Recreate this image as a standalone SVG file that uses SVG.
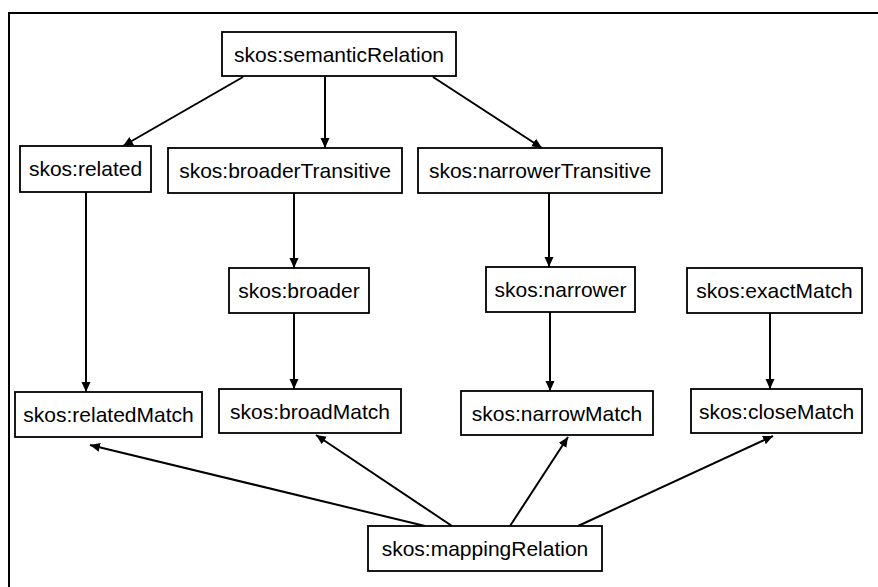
<svg xmlns="http://www.w3.org/2000/svg" width="878" height="587" viewBox="0 0 878 587">
<style>
.box{fill:#fff;stroke:#000;stroke-width:1.8}
.lbl{font-family:"Liberation Sans",Arial,sans-serif;font-size:21px;fill:#000;text-anchor:middle}
.edge{stroke:#000;stroke-width:2;fill:none;marker-end:url(#ah)}
</style>
<defs>
<marker id="ah" markerUnits="userSpaceOnUse" markerWidth="11" markerHeight="10" refX="10" refY="4.5" orient="auto">
<path d="M0,0 L10,4.5 L0,9 z" fill="#000"/>
</marker>
</defs>
<rect x="0" y="0" width="878" height="587" fill="#fff"/>
<rect x="9" y="13" width="900" height="600" fill="none" stroke="#000" stroke-width="2"/>
<g id="connectors">
<line class="edge" x1="243" y1="77" x2="123" y2="146"/>
<line class="edge" x1="325" y1="77" x2="325" y2="148"/>
<line class="edge" x1="433" y1="77" x2="542" y2="148"/>
<line class="edge" x1="86" y1="192" x2="86" y2="392"/>
<line class="edge" x1="294" y1="193" x2="294" y2="268"/>
<line class="edge" x1="294" y1="313" x2="294" y2="389"/>
<line class="edge" x1="549" y1="193" x2="549" y2="267"/>
<line class="edge" x1="550" y1="312" x2="550" y2="391"/>
<line class="edge" x1="770" y1="313" x2="770" y2="389"/>
<line class="edge" x1="425" y1="526" x2="90" y2="445"/>
<line class="edge" x1="452" y1="526" x2="316" y2="435"/>
<line class="edge" x1="510" y1="526" x2="568" y2="437"/>
<line class="edge" x1="578" y1="526" x2="773" y2="436"/>
</g>
<g id="semanticRelation"><rect class="box" x="222" y="32" width="234" height="44"/><text class="lbl" x="339" y="62">skos:semanticRelation</text></g>
<g id="related"><rect class="box" x="20" y="146" width="131" height="46"/><text class="lbl" x="85.5" y="176">skos:related</text></g>
<g id="broaderTransitive"><rect class="box" x="168" y="148" width="234" height="45"/><text class="lbl" x="285" y="178">skos:broaderTransitive</text></g>
<g id="narrowerTransitive"><rect class="box" x="418" y="148" width="244" height="45"/><text class="lbl" x="540" y="178">skos:narrowerTransitive</text></g>
<g id="broader"><rect class="box" x="229" y="268" width="140" height="45"/><text class="lbl" x="299" y="298">skos:broader</text></g>
<g id="narrower"><rect class="box" x="486" y="267" width="149" height="45"/><text class="lbl" x="560.5" y="297">skos:narrower</text></g>
<g id="exactMatch"><rect class="box" x="687" y="268" width="175" height="45"/><text class="lbl" x="774.5" y="298">skos:exactMatch</text></g>
<g id="relatedMatch"><rect class="box" x="15" y="392" width="187" height="45"/><text class="lbl" x="108.5" y="422">skos:relatedMatch</text></g>
<g id="broadMatch"><rect class="box" x="219" y="389" width="182" height="44"/><text class="lbl" x="310" y="419">skos:broadMatch</text></g>
<g id="narrowMatch"><rect class="box" x="461" y="391" width="192" height="44"/><text class="lbl" x="557" y="421">skos:narrowMatch</text></g>
<g id="closeMatch"><rect class="box" x="691" y="389" width="171" height="44"/><text class="lbl" x="776.5" y="419">skos:closeMatch</text></g>
<g id="mappingRelation"><rect class="box" x="368" y="526" width="234" height="45"/><text class="lbl" x="485" y="556">skos:mappingRelation</text></g>
</svg>
